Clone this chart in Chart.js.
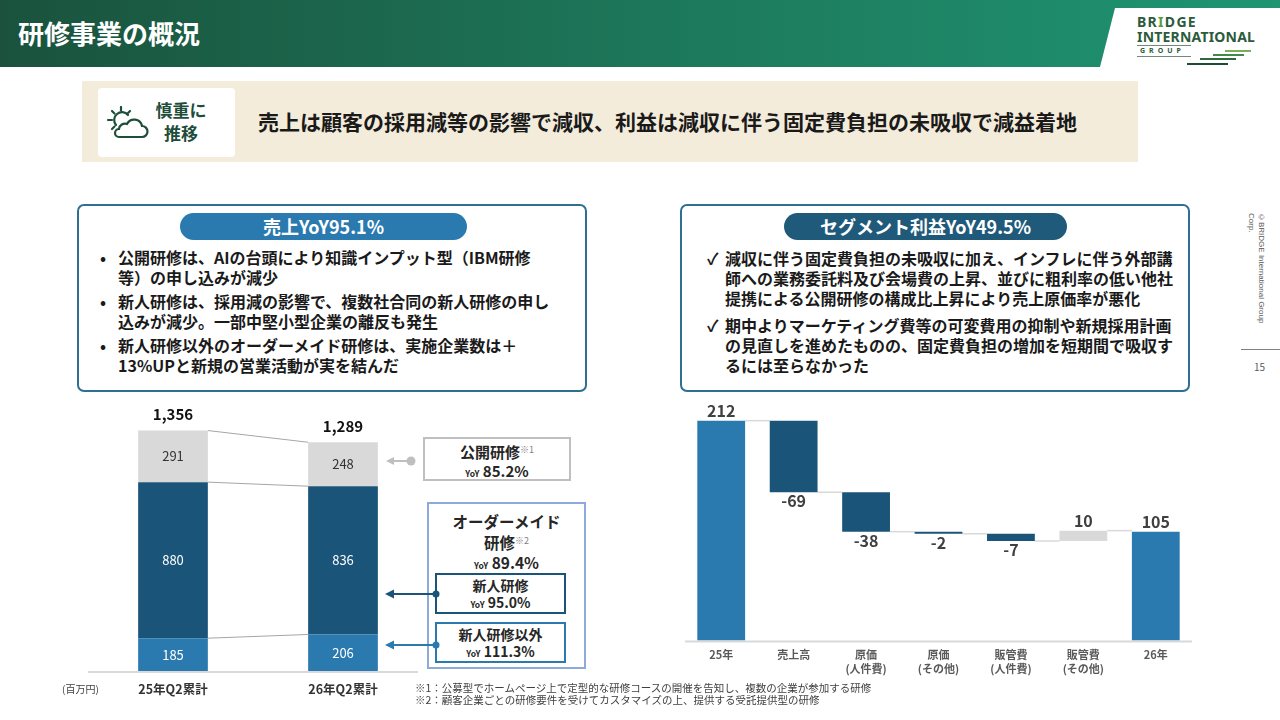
<!DOCTYPE html>
<html lang="ja">
<head>
<meta charset="utf-8">
<title>研修事業の概況</title>
<script src="https://cdn.jsdelivr.net/npm/chart.js@4.4.1/dist/chart.umd.min.js"></script>
<style>
  body { margin: 0; width: 1280px; height: 720px; position: relative; overflow: hidden; background: #fff;
         font-family: "Noto Sans CJK JP", "Noto Sans", sans-serif; color: #262626; }
  .abs { position: absolute; }
  .header { left: 0; top: 0; width: 1280px; height: 67px;
            background: linear-gradient(90deg, #1a523d 0%, #1d7a5c 55%, #1f9573 100%); }
  .title { left: 18px; top: 14px; font-size: 26px; font-weight: 700; color: #fff; line-height: 38px; }
  .logo-cut { left: 1100px; top: 8px; width: 180px; height: 59px; background: #fff;
              clip-path: polygon(15px 0, 100% 0, 100% 100%, 0 100%); }
  .logo { font-family: "Noto Sans", sans-serif; font-weight: 700; color: #2b5a3c; white-space: nowrap; }
  .banner { left: 82px; top: 81px; width: 1056px; height: 81px; background: #f4ecdb; }
  .badge { left: 98px; top: 88px; width: 137px; height: 69px; background: #fff; border-radius: 4px; }
  .badge-text { left: 150px; top: 98px; width: 62px; font-size: 17px; font-weight: 700; color: #1e4d3a;
                line-height: 23px; text-align: center; white-space: nowrap; }
  .headline { left: 258px; top: 106px; font-size: 21px; font-weight: 700; color: #1a1a1a; white-space: nowrap; }
  .box { width: 506px; height: 184px; border: 2px solid #2f6f92; border-radius: 7px; }
  .pill { height: 27px; border-radius: 14px; color: #fff; font-size: 18px; font-weight: 700;
          text-align: center; line-height: 27px; }
  .pts { font-size: 16px; font-weight: 700; color: #1a1a1a; white-space: nowrap; }
  .pts div { position: relative; padding-left: 18px; }
  .pts div span { position: absolute; left: 0; top: 0; }
  .note { font-size: 10.5px; color: #404040; line-height: 12px; white-space: nowrap; }
  .tag { background: #fff; text-align: center; color: #262626; font-weight: 700; white-space: nowrap; }
  .tag small { font-size: 8.5px; font-weight: 700; }
  .tag sup { font-size: 9px; font-weight: 400; color: #7f7f7f; vertical-align: 5px; }
</style>
</head>
<body>

<div class="abs header"></div>
<div class="abs title">研修事業の概況</div>
<div class="abs logo-cut"></div>
<div class="abs logo" style="left:1137px;top:12px;font-size:14px;letter-spacing:1.3px;">BR<span style="color:#5d9a3c">I</span>DGE</div>
<div class="abs logo" style="left:1137px;top:27px;font-size:14px;letter-spacing:0.2px;">INTERNATIONAL</div>
<div class="abs" style="left:1137px;top:45px;width:54px;height:1px;background:#6f8a78;"></div>
<div class="abs logo" style="left:1140px;top:46px;font-size:7px;letter-spacing:4px;">GROUP</div>
<div class="abs" style="left:1137px;top:56px;width:54px;height:1px;background:#6f8a78;"></div>
<div class="abs" style="left:1225px;top:50px;width:26px;height:2px;background:#7fae5a;"></div>
<div class="abs" style="left:1213px;top:54px;width:31px;height:2px;background:#3f8a4a;"></div>
<div class="abs" style="left:1200px;top:58px;width:36px;height:2px;background:#2d6b3f;"></div>
<div class="abs" style="left:1187px;top:63px;width:41px;height:2px;background:#1f4d33;"></div>

<div class="abs banner"></div>
<div class="abs badge"></div>
<svg class="abs" style="left:106px;top:106px" width="44" height="34" viewBox="0 0 44 34">
  <g stroke="#1e4d3a" stroke-width="2.2" fill="none" stroke-linecap="round">
    <path d="M10 19 A7 7 0 1 1 22 9"/>
    <line x1="2" y1="14" x2="6" y2="14"/>
    <line x1="6" y1="5" x2="8.5" y2="7.5"/>
    <line x1="15" y1="1" x2="15" y2="4.5"/>
    <line x1="24" y1="5" x2="21.5" y2="7.5"/>
    <line x1="6" y1="23" x2="8.5" y2="20.5"/>
    <path d="M13 31 H36 a5.5 5.5 0 0 0 0-11 a8 8 0 0 0-15-2 a6 6 0 0 0-8 5 a4 4 0 0 0 0 8 Z" fill="#fff"/>
  </g>
</svg>
<div class="abs badge-text">慎重に<br>推移</div>
<div class="abs headline">売上は顧客の採用減等の影響で減収、利益は減収に伴う固定費負担の未吸収で減益着地</div>

<div class="abs box" style="left:77px;top:204px;"></div>
<div class="abs pill" style="left:180px;top:213px;width:287px;background:#2a7ab0;">売上YoY95.1%</div>
<div class="abs pts" style="left:100px;top:248px;line-height:19.5px;">
  <div><span>•</span>公開研修は、AIの台頭により知識インプット型（IBM研修<br>等）の申し込みが減少</div>
  <div style="margin-top:5px"><span>•</span>新人研修は、採用減の影響で、複数社合同の新人研修の申し<br>込みが減少。一部中堅小型企業の離反も発生</div>
  <div style="margin-top:5px"><span>•</span>新人研修以外のオーダーメイド研修は、実施企業数は＋<br>13%UPと新規の営業活動が実を結んだ</div>
</div>

<div class="abs box" style="left:680px;top:204px;"></div>
<div class="abs pill" style="left:784px;top:213px;width:283px;background:#1f5a7a;">セグメント利益YoY49.5%</div>
<div class="abs pts" style="left:707px;top:248px;line-height:20px;">
  <div><span>✓</span>減収に伴う固定費負担の未吸収に加え、インフレに伴う外部講<br>師への業務委託料及び会場費の上昇、並びに粗利率の低い他社<br>提携による公開研修の構成比上昇により売上原価率が悪化</div>
  <div style="margin-top:7px"><span>✓</span>期中よりマーケティング費等の可変費用の抑制や新規採用計画<br>の見直しを進めたものの、固定費負担の増加を短期間で吸収す<br>るには至らなかった</div>
</div>

<div class="abs" style="left:1246px;top:213px;height:120px;writing-mode:vertical-rl;font-size:8px;color:#595959;font-family:'Liberation Sans',sans-serif;line-height:10px;">©BRIDGE International Group Corp.</div>
<div class="abs" style="left:1241px;top:349px;width:39px;height:1px;background:#7f7f7f;"></div>
<div class="abs" style="left:1254px;top:359px;font-size:10px;color:#595959;">15</div>

<div class="abs" style="left:88px;top:405px;width:340px;height:303px;"><canvas id="salesChart"></canvas></div>
<div class="abs" style="left:685px;top:402px;width:507px;height:281px;"><canvas id="bridgeChart"></canvas></div>

<div class="abs tag" style="left:423px;top:437px;width:144px;height:40px;border:2.5px solid #bfbfbf;">
  <div style="font-size:15px;line-height:20px;margin-top:1px;">公開研修<sup>※1</sup></div>
  <div style="font-size:15px;line-height:18px;"><small>YoY</small> 85.2%</div>
</div>
<div class="abs tag" style="left:427px;top:502px;width:155px;height:163px;border:2px solid #8eaadb;">
  <div style="font-size:15.5px;line-height:19px;margin-top:8px;">オーダーメイド</div>
  <div style="font-size:15.5px;line-height:19px;">研修<sup>※2</sup></div>
  <div style="font-size:15.5px;line-height:21px;"><small>YoY</small> 89.4%</div>
</div>
<div class="abs tag" style="left:435px;top:573px;width:127px;height:37px;border:2.5px solid #1a5478;">
  <div style="font-size:14px;line-height:18px;margin-top:1px;">新人研修</div>
  <div style="font-size:14px;line-height:16px;"><small>YoY</small> 95.0%</div>
</div>
<div class="abs tag" style="left:435px;top:622px;width:127px;height:37px;border:2.5px solid #2a7ab0;">
  <div style="font-size:14px;line-height:18px;margin-top:1px;">新人研修以外</div>
  <div style="font-size:14px;line-height:16px;"><small>YoY</small> 111.3%</div>
</div>
<svg class="abs" style="left:0;top:0;pointer-events:none" width="1280" height="720">
  <line x1="411" y1="461" x2="392" y2="461" stroke="#bfbfbf" stroke-width="2"/>
  <polygon points="386,461 394,457 394,465" fill="#bfbfbf"/>
  <circle cx="411" cy="461" r="4.5" fill="#bfbfbf"/>
  <line x1="436" y1="594" x2="392" y2="594" stroke="#1a5478" stroke-width="2"/>
  <polygon points="385,594 394,589.5 394,598.5" fill="#1a5478"/>
  <circle cx="436" cy="594" r="3.5" fill="#1a5478"/>
  <line x1="436" y1="645" x2="392" y2="645" stroke="#2a7ab0" stroke-width="2"/>
  <polygon points="385,645 394,640.5 394,649.5" fill="#2a7ab0"/>
  <circle cx="436" cy="645" r="3.5" fill="#2a7ab0"/>
</svg>

<div class="abs note" style="left:62px;top:683px;font-size:10px;">(百万円)</div>
<div class="abs note" style="left:415px;top:682px;">※1：公募型でホームページ上で定型的な研修コースの開催を告知し、複数の企業が参加する研修<br>※2：顧客企業ごとの研修要件を受けてカスタマイズの上、提供する受託提供型の研修</div>

<script>
// 売上（百万円）
const periods = ['25年Q2累計', '26年Q2累計'];
const salesOther = [185, 206];     // 新人研修以外
const salesNewHire = [880, 836];   // 新人研修
const salesOpen = [291, 248];      // 公開研修
const salesTotal = [1356, 1289];

// セグメント利益の増減（百万円）
const bridgeLabels = [['25年'], ['売上高'], ['原価', '(人件費)'], ['原価', '(その他)'],
                      ['販管費', '(人件費)'], ['販管費', '(その他)'], ['26年']];
const bridgeValues = [212, -69, -38, -2, -7, 10, 105];

const BLUE = '#2a7ab0', NAVY = '#1a5478', GRAY = '#d9d9d9';
Chart.defaults.font.family = '"Noto Sans CJK JP", "Noto Sans", sans-serif';
Chart.defaults.animation = false;

// 売上の積み上げ
const salesDecor = {
  id: 'salesDecor',
  beforeDatasetsDraw(chart) {
    const c = chart.ctx, a = chart.chartArea;
    const y0 = chart.scales.y.getPixelForValue(0);
    c.save();
    c.strokeStyle = '#d9d9d9';
    c.lineWidth = 2;
    c.beginPath(); c.moveTo(a.left - 1, y0 + 1); c.lineTo(a.left + 330, y0 + 1); c.stroke();
    c.strokeStyle = '#a6a6a6';
    c.lineWidth = 1;
    chart.data.datasets.forEach(function (ds, i) {
      const bars = chart.getDatasetMeta(i).data;
      const p = bars[0], q = bars[1];
      c.beginPath(); c.moveTo(p.x + p.width / 2, p.y); c.lineTo(q.x - q.width / 2, q.y); c.stroke();
    });
    c.restore();
  },
  afterDatasetsDraw(chart) {
    const c = chart.ctx;
    c.save();
    c.textAlign = 'center';
    c.textBaseline = 'middle';
    c.font = '13px "Noto Sans CJK JP"';
    chart.data.datasets.forEach(function (ds, i) {
      chart.getDatasetMeta(i).data.forEach(function (bar, j) {
        c.fillStyle = ds.backgroundColor === GRAY ? '#333' : '#fff';
        c.fillText(ds.data[j], bar.x, (bar.y + bar.base) / 2);
      });
    });
    const top = chart.getDatasetMeta(chart.data.datasets.length - 1).data;
    c.font = 'bold 15px "Noto Sans CJK JP"';
    c.fillStyle = '#111';
    top.forEach(function (bar, j) {
      c.fillText(salesTotal[j].toLocaleString('en-US'), bar.x, bar.y - 16);
    });
    c.restore();
  }
};

new Chart(document.getElementById('salesChart'), {
  type: 'bar',
  data: {
    labels: periods,
    datasets: [
      { label: '新人研修以外', data: salesOther, backgroundColor: BLUE },
      { label: '新人研修', data: salesNewHire, backgroundColor: NAVY },
      { label: '公開研修', data: salesOpen, backgroundColor: GRAY }
    ]
  },
  options: {
    responsive: true,
    maintainAspectRatio: false,
    barPercentage: 0.41,
    categoryPercentage: 1,
    plugins: { legend: { display: false }, tooltip: { enabled: false } },
    scales: {
      x: {
        stacked: true,
        grid: { display: false, drawTicks: false },
        border: { display: false },
        ticks: { color: '#333', padding: 11, font: { size: 12.5, weight: 'bold' } }
      },
      y: { stacked: true, display: false, min: 0, max: 1500 }
    }
  },
  plugins: [salesDecor]
});

// 増減ブリッジ
let running = 0;
const bridgeBars = bridgeValues.map(function (v, i) {
  if (i === 0 || i === bridgeValues.length - 1) { running = v; return [0, v]; }
  const start = running;
  running += v;
  return [start, running];
});
const bridgeColors = bridgeValues.map(function (v, i) {
  if (i === 0 || i === bridgeValues.length - 1) return BLUE;
  return v < 0 ? NAVY : GRAY;
});

const bridgeDecor = {
  id: 'bridgeDecor',
  beforeDatasetsDraw(chart) {
    const c = chart.ctx, a = chart.chartArea, ys = chart.scales.y;
    const bars = chart.getDatasetMeta(0).data;
    c.save();
    c.strokeStyle = '#d9d9d9';
    c.lineWidth = 2;
    c.beginPath(); c.moveTo(a.left, ys.getPixelForValue(0) + 1); c.lineTo(a.right, ys.getPixelForValue(0) + 1); c.stroke();
    c.lineWidth = 1.5;
    for (let i = 0; i < bars.length - 1; i++) {
      const y = ys.getPixelForValue(bridgeBars[i][1]);
      c.beginPath();
      c.moveTo(bars[i].x + bars[i].width / 2, y);
      c.lineTo(bars[i + 1].x - bars[i + 1].width / 2, y);
      c.stroke();
    }
    c.restore();
  },
  afterDatasetsDraw(chart) {
    const c = chart.ctx;
    c.save();
    c.textAlign = 'center';
    c.textBaseline = 'middle';
    c.font = 'bold 16px "Noto Sans CJK JP"';
    c.fillStyle = '#404040';
    chart.getDatasetMeta(0).data.forEach(function (bar, i) {
      const v = bridgeValues[i];
      if (v < 0) c.fillText(String(v), bar.x, Math.max(bar.y, bar.base) + 9);
      else c.fillText(String(v), bar.x, Math.min(bar.y, bar.base) - 10);
    });
    c.restore();
  }
};

new Chart(document.getElementById('bridgeChart'), {
  type: 'bar',
  data: {
    labels: bridgeLabels,
    datasets: [{ label: 'セグメント利益', data: bridgeBars, backgroundColor: bridgeColors }]
  },
  options: {
    responsive: true,
    maintainAspectRatio: false,
    barPercentage: 0.66,
    categoryPercentage: 1,
    plugins: { legend: { display: false }, tooltip: { enabled: false } },
    scales: {
      x: {
        grid: { display: false, drawTicks: false },
        border: { display: false },
        ticks: { color: '#595959', padding: 8, font: { size: 11, weight: 'bold', lineHeight: 1.2 } }
      },
      y: { display: false, min: 0, max: 230 }
    }
  },
  plugins: [bridgeDecor]
});
</script>
</body>
</html>
